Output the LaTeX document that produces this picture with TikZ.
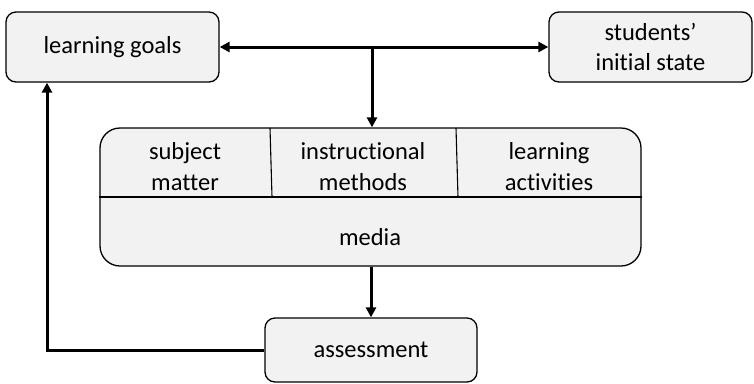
\documentclass[tikz,border=0pt]{standalone}
\usepackage{fontspec}
\setmainfont{Carlito}[Ligatures=NoCommon]
\usetikzlibrary{arrows.meta,calc}
\begin{document}
\begin{tikzpicture}[x=1pt,y=-1pt,
  box/.style={draw=black,line width=1.3pt,fill=boxgray,rounded corners=10pt,
    inner sep=0pt,align=center,font=\fontsize{24.5}{30}\selectfont},
  label/.style={inner sep=0pt,align=center,font=\fontsize{24.5}{31}\selectfont},
  flow/.style={line width=3pt,-{Triangle[length=10pt,width=10pt]}},
  flow2/.style={line width=3pt,{Triangle[length=10pt,width=10pt]}-{Triangle[length=10pt,width=10pt]}}]
\definecolor{boxgray}{HTML}{F2F2F2}
\useasboundingbox (0,0) rectangle (754,383);

% outer boxes
\node[box,minimum width=213pt,minimum height=70pt] (lg) at (112.5,47) {learning goals};
\node[box,minimum width=203pt,minimum height=70pt] (st) at (650.5,47) {students'\\initial state};
\node[box,minimum width=541pt,minimum height=138pt,rounded corners=20pt] (main) at (370.5,197) {};
\node[box,minimum width=212pt,minimum height=64pt] (as) at (371,350) {assessment};

% inner partition of the planning box
\draw[line width=1.1pt] (main.west |- 0,197) -- (main.east |- 0,197);
\draw[line width=1.1pt] (270,128) -- (272,197);
\draw[line width=1.1pt] (456,128) -- (458,197);
\node[label] (sm) at (185,167) {subject\\matter};
\node[label] (im) at (363,167) {instructional\\methods};
\node[label] (la) at (549,167) {learning\\activities};
\node[label] (md) at (370,237) {media};

% connectors
\draw[flow2] (lg.east) -- (st.west);
\coordinate (j) at (372,47);
\draw[flow] (j) -- (j |- main.north);
\draw[flow] (main.south -| as.north) -- (as.north);
\coordinate (fb) at (47,0);
\draw[flow] (as.west) -| (fb |- lg.south);
\end{tikzpicture}
\end{document}
